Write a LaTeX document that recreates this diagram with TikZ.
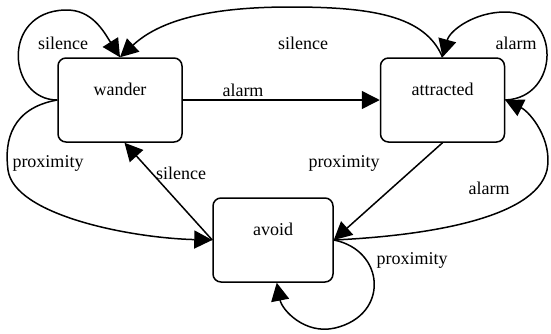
\documentclass[tikz,border=0pt]{standalone}
\usepackage{fontspec}
\setmainfont{LiberationSerif}[Extension=.ttf, UprightFont=*-Regular]
\newfontfamily\statefont{LiberationSerif}[Extension=.ttf, UprightFont=*-Regular]
\usetikzlibrary{arrows.meta}

\begin{document}
\begin{tikzpicture}[
  x=1pt, y=-1pt,
  every node/.style={font=\statefont\fontsize{18}{22}\selectfont},
  state/.style={draw, rounded corners=8pt, line width=1.5pt,
    minimum width=124pt, minimum height=84pt,
    text height=12pt, text depth=22pt, inner sep=0pt},
  trans/.style={line width=1.5pt, line join=round,
    -{Triangle[length=18pt,width=18pt]}},
  lbl/.style={inner sep=0pt}
]
\useasboundingbox (0,0) rectangle (551,333);

% ---------------- States ----------------
\node[state] (wander) at (120,100) {wander};
\node[state] (attracted) at (442.5,100) {attracted};
\node[state, minimum width=120pt] (avoid) at (273,240) {avoid};

% ---------------- Transitions ----------------
% wander: silence loop, alarm, proximity
\draw[trans] (wander.west) .. controls (8,100) and (0,12) .. (65,10)
  .. controls (92,9) and (104,32) .. (wander.north);
\draw[trans] (wander.east) -- (attracted.west);
\draw[trans] (wander.west) .. controls (12,108) and (4,140) .. (8,170)
  .. controls (14,215) and (130,238) .. (avoid.west);

% attracted: silence, alarm loop, proximity
\draw[trans] (attracted.north) .. controls (425,15) and (370,7) .. (290,7)
  .. controls (210,7) and (160,20) .. (wander.north);
\draw[trans] (attracted.east) .. controls (560,98) and (562,12) .. (505,12)
  .. controls (475,12) and (450,30) .. (attracted.north);
\draw[trans] (attracted.south) -- (avoid.east);

% avoid: silence, alarm, proximity loop
\draw[trans] (avoid.west) -- (wander.-84);
\draw[trans] (avoid.east) .. controls (420,236) and (535,220) .. (547,170)
  .. controls (553,140) and (530,112) .. (attracted.east);
\draw[trans] (avoid.east) .. controls (385,250) and (390,315) .. (335,328)
  .. controls (305,335) and (282,310) .. (avoid.-85);

% ---------------- Labels ----------------
\node[lbl] (silA) at (63,43) {silence};
\node[lbl] (silB) at (303,43) {silence};
\node[lbl] (alaA) at (243,90) {alarm};
\node[lbl] (alaB) at (516,43) {alarm};
\node[lbl] (proA) at (48,163) {proximity};
\node[lbl] (silC) at (181,173) {silence};
\node[lbl] (proB) at (344,163) {proximity};
\node[lbl] (alaC) at (489,188) {alarm};
\node[lbl] (proC) at (412,260) {proximity};

\end{tikzpicture}
\end{document}
